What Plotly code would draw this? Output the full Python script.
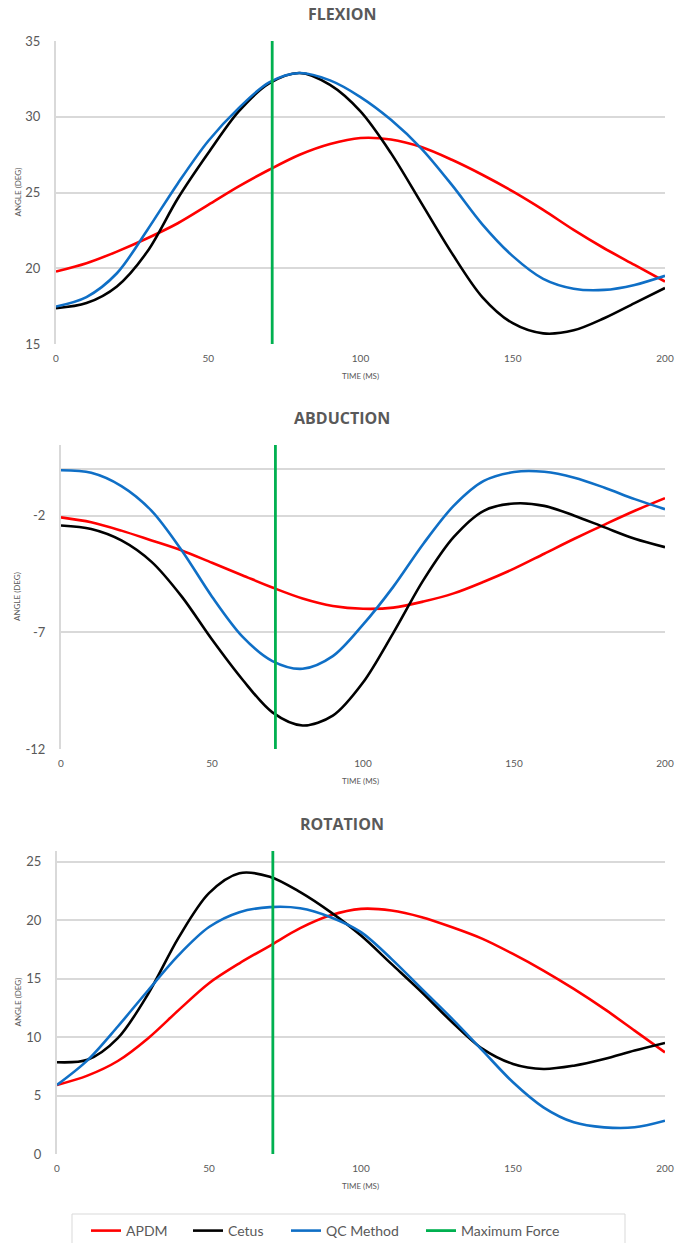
import plotly.graph_objects as go

# Sample times (ms)
time_ms = list(range(0, 201, 10))

# Flexion angle (deg)
flexion_apdm = [19.78, 20.33, 21.1, 21.98, 22.97, 24.18, 25.4, 26.5, 27.49, 28.2, 28.6,
                28.5, 28.0, 27.16, 26.17, 25.07, 23.85, 22.53, 21.32, 20.22, 19.12]
flexion_cetus = [17.36, 17.7, 18.8, 21.1, 24.6, 27.6, 30.35, 32.2, 32.89, 32.1, 30.35,
                 27.6, 24.3, 21.0, 18.1, 16.37, 15.7, 15.9, 16.7, 17.7, 18.7]
flexion_qc = [17.47, 18.1, 19.67, 22.53, 25.6, 28.4, 30.57, 32.27, 32.89, 32.4, 31.3,
              29.8, 27.9, 25.5, 22.9, 20.8, 19.3, 18.65, 18.57, 18.9, 19.5]

# Abduction angle (deg)
abduction_apdm = [-2.07, -2.28, -2.64, -3.06, -3.49, -4.02, -4.55, -5.08, -5.55, -5.87, -5.99,
                  -5.94, -5.68, -5.33, -4.83, -4.27, -3.63, -2.99, -2.38, -1.79, -1.25]
abduction_cetus = [-2.42, -2.57, -3.06, -3.98, -5.47, -7.31, -9.01, -10.43, -10.99, -10.57, -9.15,
                   -7.03, -4.76, -2.92, -1.79, -1.48, -1.58, -2.0, -2.5, -2.99, -3.35]
abduction_qc = [-0.05, -0.16, -0.73, -1.79, -3.49, -5.47, -7.17, -8.23, -8.56, -8.02, -6.67,
                -5.05, -3.2, -1.58, -0.51, -0.13, -0.12, -0.37, -0.8, -1.29, -1.72]

# Rotation angle (deg)
rotation_apdm = [5.9, 6.7, 7.95, 9.9, 12.3, 14.6, 16.3, 17.8, 19.3, 20.4, 20.95,
                 20.81, 20.24, 19.38, 18.39, 17.1, 15.68, 14.11, 12.4, 10.55, 8.69]
rotation_cetus = [7.84, 8.05, 9.9, 13.7, 18.5, 22.3, 24.0, 23.7, 22.38, 20.67, 18.67,
                  16.25, 13.83, 11.26, 8.98, 7.7, 7.27, 7.55, 8.12, 8.84, 9.49]
rotation_qc = [5.9, 8.0, 10.9, 14.0, 17.0, 19.4, 20.67, 21.1, 21.0, 20.24, 18.96,
               16.68, 14.11, 11.55, 8.84, 6.13, 3.99, 2.71, 2.28, 2.28, 2.85]

# Instant of maximum force (ms)
max_force_ms = 71

panel_titles = ["FLEXION", "ABDUCTION", "ROTATION"]
y_ranges = [[15, 35], [-12, 1.03], [0, 25.9]]
y_ticks = [[15, 20, 25, 30, 35], [-12, -7, -2, 0], [0, 5, 10, 15, 20, 25]]
y_ticktext = [["15", "20", "25", "30", "35"], ["-12", "-7", "-2", ""], ["0", "5", "10", "15", "20", "25"]]
x_ticks = [0, 50, 100, 150, 200]

series_names = ["APDM", "Cetus", "QC Method"]
series_colors = ["#ff0000", "#000000", "#0f6fc6"]
force_name = "Maximum Force"
force_color = "#00b050"
panel_data = [
    [flexion_apdm, flexion_cetus, flexion_qc],
    [abduction_apdm, abduction_cetus, abduction_qc],
    [rotation_apdm, rotation_cetus, rotation_qc],
]

W, H = 675, 1243
# plot-area boxes in pixels: (left, right, top, bottom)
boxes = [(56, 665, 41, 344), (61, 665, 445, 749), (57, 665, 851, 1154)]
# left pixel of each legend entry, one legend per entry
legend_left = [86, 188, 286, 421]
legend_mid_y = 1231

FONT = "Lato, 'Open Sans', sans-serif"
GREY = "#595959"
GRID = "#d9d9d9"

fig = go.Figure()
layout = {}
annotations = []
legend_ids = ["legend", "legend2", "legend3", "legend4"]

for i in range(3):
    ax = "" if i == 0 else str(i + 1)
    xname, yname = "x" + ax, "y" + ax
    l, r, t, b = boxes[i]
    for k, (name, color, vals) in enumerate(zip(series_names, series_colors, panel_data[i])):
        fig.add_trace(go.Scatter(
            x=time_ms, y=vals, mode="lines", name=name,
            line=dict(color=color, width=2.6, shape="spline", smoothing=0.9),
            xaxis=xname, yaxis=yname, showlegend=(i == 0), legend=legend_ids[k],
        ))
    fig.add_trace(go.Scatter(
        x=[max_force_ms, max_force_ms], y=y_ranges[i], mode="lines",
        name=force_name, line=dict(color=force_color, width=2.8),
        xaxis=xname, yaxis=yname, showlegend=(i == 0), legend=legend_ids[3],
    ))

    layout["xaxis" + ax] = dict(
        domain=[l / W, r / W], anchor=yname, range=[0, 200],
        tickvals=x_ticks, showgrid=False, zeroline=False,
        showline=False, ticks="", ticklabelstandoff=7,
        tickfont=dict(family=FONT, size=10, color=GREY),
    )
    layout["yaxis" + ax] = dict(
        domain=[1 - b / H, 1 - t / H], anchor=xname, range=y_ranges[i],
        tickvals=y_ticks[i], ticktext=y_ticktext[i],
        showgrid=True, gridcolor=GRID, gridwidth=2, zeroline=False,
        showline=True, linecolor=GRID, linewidth=2, ticks="",
        ticklabelstandoff=11,
        tickfont=dict(family=FONT, size=13, color=GREY),
    )

    annotations.append(dict(
        text="<b>" + panel_titles[i] + "</b>", x=342 / W, y=1 - (t - 27) / H,
        xref="paper", yref="paper", showarrow=False, xanchor="center", yanchor="middle",
        font=dict(family="'Open Sans', sans-serif", size=16, color=GREY),
    ))
    annotations.append(dict(
        text="TIME (MS)", x=360 / W, y=1 - (b + 32) / H,
        xref="paper", yref="paper", showarrow=False, xanchor="center", yanchor="middle",
        font=dict(family=FONT, size=8, color=GREY),
    ))
    annotations.append(dict(
        text="ANGLE (DEG)", x=17 / W, y=1 - (t + b) / 2 / H, textangle=-90,
        xref="paper", yref="paper", showarrow=False, xanchor="center", yanchor="middle",
        font=dict(family=FONT, size=8, color=GREY),
    ))

for k, lid in enumerate(legend_ids):
    layout[lid] = dict(
        orientation="h", x=legend_left[k] / W, xanchor="left",
        y=1 - legend_mid_y / H, yanchor="middle",
        borderwidth=0, bgcolor="rgba(0,0,0,0)",
        font=dict(family=FONT, size=14, color=GREY),
        itemwidth=30,
    )

# frame around the legend row
shapes = [dict(
    type="rect", xref="paper", yref="paper",
    x0=72 / W, x1=625 / W, y0=-0.01, y1=1 - 1214 / H,
    line=dict(color=GRID, width=1), fillcolor="rgba(0,0,0,0)", layer="below",
)]

fig.update_layout(
    width=W, height=H, autosize=False,
    margin=dict(l=0, r=0, t=0, b=0, autoexpand=False),
    paper_bgcolor="white", plot_bgcolor="white",
    annotations=annotations, shapes=shapes,
    **layout,
)

fig.write_html("out.html")
